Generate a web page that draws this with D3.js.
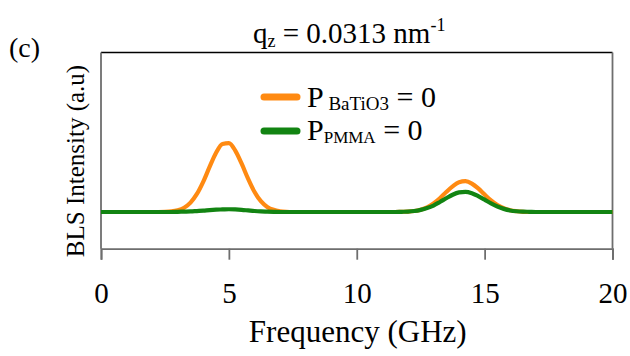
<!DOCTYPE html>
<html>
<head>
<meta charset="utf-8">
<script src="https://cdn.jsdelivr.net/npm/d3@7"></script>
<style>
  html, body { margin: 0; padding: 0; background: #fff; }
  svg { display: block; }
</style>
</head>
<body>
<svg id="chart" width="630" height="356"></svg>
<script>
// ---- data ----
const freq = [0, 1, 2,
  2.5, 2.75, 3, 3.25, 3.5, 3.75, 4, 4.25, 4.5, 4.75, 5, 5.25, 5.5, 5.75, 6, 6.25, 6.5, 6.75, 7, 7.25, 7.5,
  8, 9, 10, 11, 11.5, 11.75,
  12, 12.25, 12.5, 12.75, 13, 13.25, 13.5, 13.75, 14, 14.25, 14.5, 14.75, 15, 15.25, 15.5, 15.75, 16, 16.25, 16.5, 16.75, 17,
  18, 19, 20];
const bls_BaTiO3 = [0.187, 0.187, 0.187,
  0.188, 0.190, 0.196, 0.209, 0.235, 0.279, 0.342, 0.418, 0.489, 0.534, 0.538, 0.500, 0.433, 0.357, 0.290, 0.242, 0.213, 0.198, 0.191, 0.188, 0.187,
  0.187, 0.187, 0.187, 0.187, 0.187, 0.188,
  0.189, 0.192, 0.199, 0.211, 0.231, 0.257, 0.289, 0.318, 0.339, 0.344, 0.332, 0.307, 0.276, 0.246, 0.222, 0.206, 0.196, 0.191, 0.188, 0.187, 0.187,
  0.187, 0.187, 0.187];
const bls_PMMA = [0.187, 0.187, 0.187,
  0.187, 0.187, 0.188, 0.189, 0.190, 0.192, 0.194, 0.197, 0.199, 0.200, 0.201, 0.200, 0.198, 0.195, 0.192, 0.190, 0.189, 0.188, 0.187, 0.187, 0.187,
  0.187, 0.187, 0.187, 0.187, 0.187, 0.188,
  0.189, 0.192, 0.198, 0.207, 0.220, 0.238, 0.257, 0.275, 0.287, 0.290, 0.283, 0.268, 0.250, 0.231, 0.215, 0.203, 0.195, 0.191, 0.189, 0.188, 0.187,
  0.187, 0.187, 0.187];
const xTicks = [0, 5, 10, 15, 20];
const seriesNames = ["BaTiO3", "PMMA"];
const seriesColors = ["#ff8a12", "#128412"];

// ---- layout ----
const FONT = "'Liberation Serif', 'Times New Roman', Times, 'DejaVu Serif', serif";
const svg = d3.select("#chart");
const mLeft = 101, mRight = 612.5, mTop = 52.5, mBottom = 248.7;
const x = d3.scaleLinear().domain([0, 20]).range([mLeft, mRight]);
const y = d3.scaleLinear().domain([0, 1]).range([mBottom, mTop]);
const axisGray = "#6e6e6e";

function txt(sel) { return sel.attr("font-family", FONT).style("font-family", FONT).attr("fill", "#000"); }

// frame: top black, sides gray
svg.append("line").attr("x1", mLeft).attr("x2", mRight).attr("y1", mTop).attr("y2", mTop)
  .attr("stroke", "#000").attr("stroke-width", 1.6);
svg.append("line").attr("x1", mLeft).attr("x2", mLeft).attr("y1", mTop).attr("y2", mBottom)
  .attr("stroke", axisGray).attr("stroke-width", 1.8);
svg.append("line").attr("x1", mRight).attr("x2", mRight).attr("y1", mTop).attr("y2", mBottom)
  .attr("stroke", axisGray).attr("stroke-width", 1.8);

// x axis
const xAxis = d3.axisBottom(x).tickValues(xTicks).tickSizeInner(11).tickSizeOuter(11).tickFormat(d3.format("d"));
const gx = svg.append("g").attr("transform", `translate(0,${mBottom})`).call(xAxis);
gx.attr("font-family", FONT);
gx.select(".domain").attr("stroke", axisGray).attr("stroke-width", 1.8);
gx.selectAll(".tick line").attr("stroke", axisGray).attr("stroke-width", 1.8);
txt(gx.selectAll(".tick text").attr("y", 54.5).attr("dy", 0)).style("font-size", "29px");

// lines
const series = [bls_BaTiO3, bls_PMMA];
const line = d3.line().x((d, i) => x(freq[i])).y(d => y(d)).curve(d3.curveMonotoneX);
series.forEach((s, k) => {
  svg.append("path").datum(s).attr("d", line).attr("fill", "none")
    .attr("stroke", seriesColors[k]).attr("stroke-width", 4.2).attr("stroke-linejoin", "round");
});

// legend
const legRows = [{sw: 97, base: 107, main: "P", gap: " ", sub: "BaTiO3", subSize: 19},
                 {sw: 131, base: 140, main: "P", gap: "", sub: "PMMA", subSize: 17}];
legRows.forEach((r, k) => {
  svg.append("line").attr("x1", 264).attr("x2", 297).attr("y1", r.sw).attr("y2", r.sw)
    .attr("stroke", seriesColors[k]).attr("stroke-width", 7).attr("stroke-linecap", "round");
  const t = txt(svg.append("text")).attr("x", 307).attr("y", r.base).style("font-size", "30px");
  t.append("tspan").text(r.main);
  t.append("tspan").attr("dy", 3).style("font-size", r.subSize + "px").text(r.gap + r.sub);
  t.append("tspan").attr("dy", -3).text(" = 0");
});

// title
const title = txt(svg.append("text")).attr("x", 253).attr("y", 43).style("font-size", "29px");
title.append("tspan").text("q");
title.append("tspan").attr("dy", 4).style("font-size", "18px").text("z");
title.append("tspan").attr("dy", -4).text(" = 0.0313 nm");
title.append("tspan").attr("dy", -12).style("font-size", "18px").text("-1");

// panel label
txt(svg.append("text")).attr("x", 9).attr("y", 57).style("font-size", "28px").text("(c)");

// axis titles
txt(svg.append("text")).attr("x", (mLeft + mRight) / 2 + 1).attr("y", 342).attr("text-anchor", "middle")
  .style("font-size", "31px").text("Frequency (GHz)");
txt(svg.append("text")).attr("transform", "translate(84,161) rotate(-90)").attr("text-anchor", "middle")
  .style("font-size", "25px").text("BLS Intensity (a.u)");
</script>
</body>
</html>
